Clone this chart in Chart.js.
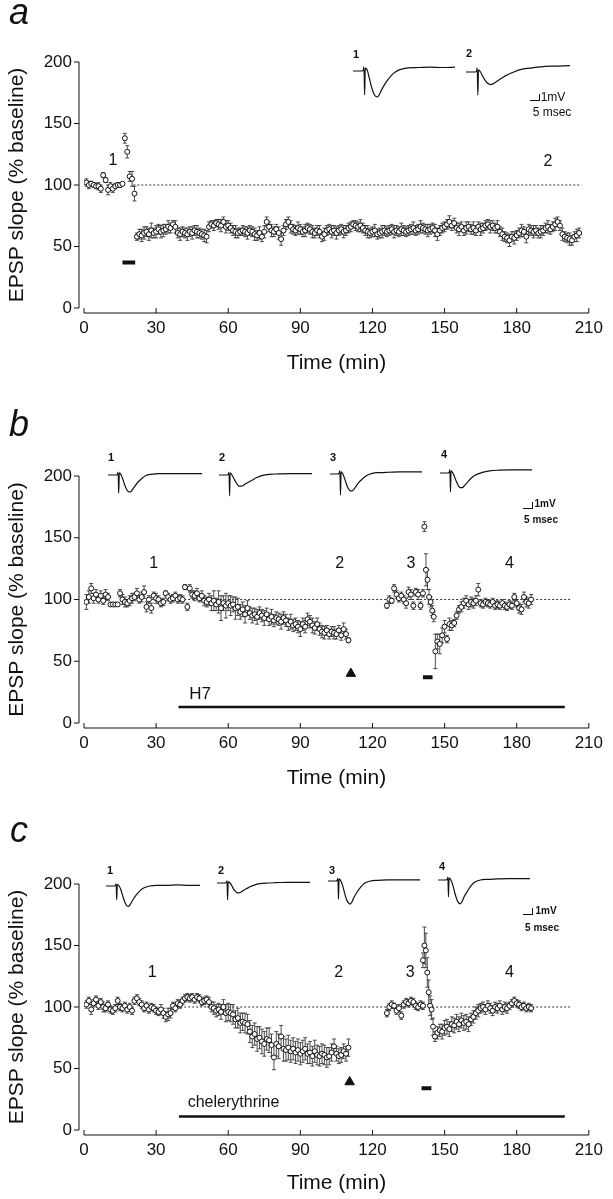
<!DOCTYPE html>
<html>
<head>
<meta charset="utf-8">
<script src="https://cdn.jsdelivr.net/npm/chart.js@4.4.1/dist/chart.umd.min.js"></script>
<style>
  body { margin: 0; background: #fff; }
  #page { position: relative; width: 613px; height: 1199px; overflow: hidden;
          font-family: 'Liberation Sans', Arial, sans-serif; color: #111; }
  #page canvas { position: absolute; left: 0; }
  .txt { position: absolute; line-height: 1; white-space: nowrap; transform: translate(-50%, -50%); }
  .letter { font-size: 36px; font-style: italic; }
  .tn { font-size: 11px; font-weight: bold; }
  .sba { font-size: 12px; }
  .sbb { font-size: 10px; font-weight: bold; }
  .bar { position: absolute; width: 9px; height: 6px; border-right: 1px solid #111; border-bottom: 1px solid #111; }
</style>
</head>
<body>
<div id="page">
  <canvas id="chart-a" width="613" height="380" style="top:0px"></canvas>
  <canvas id="chart-b" width="613" height="403" style="top:392px"></canvas>
  <canvas id="chart-c" width="613" height="400" style="top:800px"></canvas>
</div>
<script>
// ---------- panel a : EPSP slope (% baseline), one point per minute ----------
const aBase = [102, 100, 101, 100, 99, 99, 97, 108, 104, 96, 99, 97, 99, 100, 100, 101];          // t = 1..16
const aBaseErr = [3, 3, 2, 2, 2, 3, 3, 2, 2, 4, 3, 3, 2, 2, 2, 1];
const aSpike = [138, 127, 107, 105, 93];                                                          // t = 17..21
const aSpikeErr = [4, 5, 4, 6, 6];
const aPost = [                                                                                   // t = 22..206
  58, 60, 59, 61, 62, 60, 63, 61, 62, 64, 62,
  63, 64, 66, 65, 68, 66, 61, 60, 62,
  61, 60, 62, 61, 63, 62, 61, 60, 59,
  58, 66, 68, 67, 69, 68, 67, 70, 66, 67, 65,
  63, 62, 61, 62, 63, 62, 61, 63, 62,
  60, 59, 61, 58, 62, 70,
  66, 63, 62, 64, 61, 56, 63,
  68, 70, 66, 64,
  63, 65, 64, 62, 63, 65, 64, 62, 61, 63, 62,
  58, 60, 63, 64, 62, 63, 61, 63, 64, 62, 63, 65,
  66, 68, 67, 66, 67, 65,
  63, 62, 61, 62, 63, 60, 61, 62, 63, 62,
  63, 64, 62, 63, 62, 64, 63, 62, 63,
  64, 65, 63, 64, 66, 65, 64, 63, 64, 65, 63,
  60, 63, 65, 66,
  68, 70, 67, 69,
  65, 64, 66, 63, 65, 66, 64, 65, 63, 66, 64, 65,
  67, 68, 66, 67, 65, 66,
  62, 60, 58, 57, 55, 58, 57, 59,
  61, 63, 62, 58, 64, 63, 62, 63, 61, 62,
  63, 65, 66, 64, 66, 68, 70, 67,
  60, 58, 57, 56, 55, 58, 59, 61
];
const aPostErr = [
  3, 4, 5, 5, 4, 5, 6, 4, 5, 4, 5,
  5, 4, 5, 4, 3, 5, 4, 5, 4,
  4, 5, 4, 5, 4, 5, 4, 4, 5,
  5, 4, 3, 4, 3, 4, 5, 4, 5, 4, 4,
  4, 5, 4, 3, 4, 4, 5, 4, 4,
  5, 4, 5, 4, 5, 4,
  4, 5, 4, 4, 5, 5, 4,
  4, 4, 5, 4,
  4, 5, 4, 4, 5, 4, 4, 5, 4, 4, 5,
  4, 5, 4, 4, 5, 4, 5, 4, 4, 5, 4, 4,
  4, 3, 4, 4, 5, 4,
  4, 5, 4, 4, 5, 4, 4, 5, 4, 4,
  4, 4, 5, 4, 4, 5, 4, 4, 4,
  4, 5, 4, 4, 5, 4, 4, 5, 4, 4, 5,
  5, 4, 4, 4,
  4, 5, 4, 4,
  4, 5, 4, 4, 5, 4, 4, 5, 4, 4, 5, 4,
  4, 4, 5, 4, 4, 5,
  4, 5, 4, 4, 5, 4, 5, 4,
  4, 5, 4, 5, 4, 4, 5, 4, 4, 5,
  4, 4, 5, 4, 4, 5, 4, 4,
  5, 4, 4, 5, 4, 4, 5, 4
];
const aNumT = [12, 193];
const aNumV = [120, 119];
const aNumText = ['1', '2'];

// ---------- panel b : H7 ----------
const bPre = [                                                                                    // t = 1..110
  98, 102, 109, 101, 104, 100, 103, 99, 104, 102,
  96, 96, 96, 96,
  105, 100, 98, 97, 99, 101,
  102, 105, 100, 102, 106, 94, 100, 93, 103, 101,
  100, 97, 98, 105, 102, 100, 101, 103, 100, 101, 100,
  110, 94, 109, 104, 103, 105, 101, 103,
  99, 98, 100, 97, 99, 96, 98, 93, 97, 95, 97,
  95, 96, 93, 94, 90, 92, 88, 93, 89, 87,
  88, 86, 89, 87, 85, 88, 84, 86, 83, 85,
  84, 82, 85, 83, 80, 82, 79, 80, 78, 76,
  80, 78, 84, 82, 79, 77, 80, 76, 74, 73,
  75, 72, 74, 73, 72, 75, 71, 76, 72, 67
];
const bPreErr = [
  6, 5, 4, 4, 4, 3, 4, 3, 4, 3,
  1, 1, 1, 1,
  3, 4, 4, 3, 4, 4,
  3, 4, 3, 4, 5, 4, 3, 4, 3, 4,
  3, 3, 3, 2, 3, 3, 3, 3, 3, 3, 3,
  2, 3, 3, 3, 4, 4, 3, 4,
  4, 4, 5, 6, 8, 5, 9, 10, 6, 10, 6,
  8, 6, 9, 7, 6, 6, 7, 6, 5, 6,
  5, 6, 5, 5, 6, 5, 5, 6, 5, 5,
  5, 6, 5, 5, 5, 6, 5, 5, 5, 6,
  5, 5, 5, 5, 6, 5, 5, 5, 5, 5,
  4, 4, 4, 5, 4, 4, 4, 5, 4, 2
];
const bWash = [95, 100, 99, 109, 104, 101, 103, 100, 97, 106, 104, 95, 106, 104, 95, 105];       // t = 126..141
const bWashErr = [2, 3, 2, 3, 3, 3, 3, 3, 4, 4, 4, 3, 3, 4, 3, 3];
const bSpike = [159, 124, 116, 102, 98, 91, 86, 58];                                              // t = 141.6.. step 0.65
const bSpikeErr = [4, 13, 8, 6, 4, 4, 4, 14];
const bPost = [                                                                                   // t = 147..186
  66, 64, 71, 78, 68, 80, 79, 81, 87, 92,
  94, 97, 99, 96, 98, 97, 99, 108, 97, 96,
  98, 97, 96, 98, 95, 96, 95, 97, 95, 94,
  96, 95, 102, 97, 93, 92, 102, 98, 97, 100
];
const bPostErr = [
  6, 8, 6, 5, 3, 5, 4, 3, 3, 3,
  4, 4, 4, 4, 4, 4, 4, 5, 3, 3,
  3, 3, 3, 3, 3, 3, 3, 3, 3, 3,
  3, 3, 3, 3, 4, 4, 4, 4, 4, 4
];
const bNumT = [29, 106.4, 136, 177];
const bNumV = [129, 129, 129, 129];
const bNumText = ['1', '2', '3', '4'];

// ---------- panel c : chelerythrine ----------
const cPre = [                                                                                    // t = 1..110
  102, 105, 98, 103, 106, 101, 104, 100, 99, 102,
  98, 97, 99, 105, 100, 99, 101, 98, 100, 97,
  105, 107, 104, 102, 99, 101, 98, 100, 99, 97,
  96, 98, 95, 92, 94, 95, 101, 99, 103, 102,
  105, 107, 108, 107, 108, 106, 108, 107, 104, 105,
  106, 104, 100, 99, 97, 98, 96, 100, 95, 96,
  95, 94, 90, 91, 87, 88, 87, 86, 80, 76,
  78, 74, 75, 72, 70, 74, 73, 69, 59, 70,
  68, 76, 66, 65, 67, 64, 66, 63, 65, 62,
  64, 66, 62, 63, 60, 64, 61, 60, 62, 61,
  59, 60, 63, 68, 62, 60, 61, 64, 62, 67
];
const cPreErr = [
  3, 3, 4, 3, 3, 3, 3, 4, 3, 3,
  3, 3, 3, 3, 3, 3, 3, 3, 3, 3,
  3, 3, 3, 3, 3, 3, 3, 3, 3, 3,
  3, 4, 4, 4, 5, 4, 3, 3, 3, 3,
  3, 3, 3, 3, 3, 3, 3, 3, 3, 3,
  3, 4, 4, 5, 5, 5, 6, 6, 7, 7,
  7, 8, 7, 8, 8, 7, 8, 8, 9, 9,
  9, 10, 9, 10, 10, 9, 10, 9, 10, 10,
  10, 9, 10, 9, 10, 9, 9, 9, 9, 9,
  9, 9, 8, 9, 8, 9, 8, 8, 8, 8,
  8, 7, 7, 6, 6, 6, 6, 6, 6, 7
];
const cWash = [95, 100, 102, 101, 97, 99, 93, 102, 104, 103, 105, 104, 101, 100, 102, 101];     // t = 126..141
const cWashErr = [3, 3, 3, 2, 3, 3, 3, 3, 3, 3, 3, 3, 3, 3, 3, 3];
const cSpike = [138, 150, 146, 128, 112, 101, 98, 84];                                            // t = 141.0.. step 0.6
const cSpikeErr = [6, 15, 14, 12, 10, 8, 8, 7];
const cPost = [                                                                                   // t = 146..186
  76, 79, 81, 80, 83, 84, 82, 86, 85, 88,
  86, 89, 87, 88, 86, 90, 92, 95, 97, 99,
  100, 98, 101, 99, 97, 100, 99, 101, 98, 100,
  99, 101, 103, 105, 103, 102, 100, 101, 99, 100,
  99
];
const cPostErr = [
  4, 5, 5, 6, 6, 6, 6, 6, 6, 6,
  6, 6, 6, 6, 6, 5, 5, 5, 5, 4,
  4, 4, 4, 4, 4, 4, 4, 4, 4, 4,
  4, 3, 3, 3, 3, 3, 3, 3, 3, 3,
  3
];
const cNumT = [28.4, 106, 135.7, 177];
const cNumV = [128, 128, 128, 128];
const cNumText = ['1', '2', '3', '4'];

// ---------- inset EPSP traces (mV against ms after trace start) ----------
const traceMs = [0, 4, 5, 5.4, 5.7, 6, 7, 8, 9, 10, 11, 12, 13, 14, 16, 18, 20, 23, 27, 32, 38, 44, 50];
const traceA1 = [0, 0, 0.1, 0.6, -3.4, 0.4, 0.1, -1.0, -2.2, -3.1, -3.6, -3.7, -3.3, -2.7, -1.7, -0.9, -0.3, 0.2, 0.45, 0.5, 0.55, 0.5, 0.55];
const traceA2 = [0, 0, 0.1, 0.6, -3.3, 0.3, 0.0, -0.6, -1.1, -1.5, -1.7, -1.8, -1.7, -1.5, -1.1, -0.7, -0.4, 0.0, 0.4, 0.6, 0.8, 0.85, 0.9];
const traceB1 = [0, 0, 0.1, 0.4, -2.6, 0.3, 0.0, -0.7, -1.5, -2.1, -2.4, -2.4, -2.1, -1.7, -1.0, -0.5, -0.1, 0.1, 0.2, 0.2, 0.2, 0.2, 0.2];
const traceB2 = [0, 0, 0.1, 0.4, -3.0, 0.3, 0.0, -0.5, -1.0, -1.4, -1.6, -1.6, -1.5, -1.3, -1.0, -0.7, -0.4, -0.1, 0.1, 0.15, 0.2, 0.2, 0.2];
const traceB3 = [0, 0, 0.1, 0.5, -3.0, 0.3, 0.0, -0.7, -1.5, -2.1, -2.4, -2.4, -2.2, -1.8, -1.1, -0.6, -0.2, 0.1, 0.2, 0.25, 0.3, 0.3, 0.3];
const traceB4 = [0, 0, 0.1, 0.5, -2.7, 0.3, 0.0, -0.6, -1.3, -1.8, -2.1, -2.1, -1.9, -1.6, -1.0, -0.5, -0.2, 0.1, 0.3, 0.4, 0.45, 0.45, 0.45];
const traceC1 = [0, 0, 0.1, 0.3, -2.0, 0.2, 0.0, -0.6, -1.5, -2.3, -2.8, -2.9, -2.6, -2.1, -1.3, -0.7, -0.3, 0.0, 0.1, 0.1, 0.15, 0.1, 0.1];
const traceC2 = [0, 0, 0.1, 0.3, -2.4, 0.2, 0.0, -0.4, -0.9, -1.2, -1.4, -1.4, -1.3, -1.1, -0.8, -0.5, -0.3, -0.1, 0.0, 0.05, 0.1, 0.1, 0.1];
const traceC3 = [0, 0, 0.1, 0.4, -2.6, 0.3, 0.0, -0.7, -1.7, -2.6, -3.1, -3.3, -3.0, -2.4, -1.5, -0.8, -0.3, 0.0, 0.1, 0.15, 0.15, 0.15, 0.15];
const traceC4 = [0, 0, 0.1, 0.4, -2.4, 0.3, 0.0, -0.7, -1.7, -2.6, -3.2, -3.4, -3.1, -2.5, -1.6, -0.8, -0.3, 0.0, 0.1, 0.15, 0.2, 0.2, 0.2];

Chart.defaults.font.family = "'Liberation Sans', Arial, sans-serif";
Chart.defaults.color = '#111';

function seg(start, step, vals, errs) {
    return vals.map((v, i) => ({ x: +(start + i * step).toFixed(2), y: v, e: errs[i] }));
}

// axes drawn off-set from the plot corner, plus error bars and text marks
const decoPlugin = {
    id: 'deco',
    beforeDatasetsDraw(chart) {
        const { ctx, scales: { x, y } } = chart;
        const ax = x.getPixelForValue(0) - 5;
        const ay = y.getPixelForValue(0) + 5;
        ctx.save();
        ctx.strokeStyle = '#111';
        ctx.lineWidth = 1;
        ctx.beginPath();
        ctx.moveTo(ax, y.getPixelForValue(0));
        ctx.lineTo(ax, y.getPixelForValue(200));
        y.ticks.forEach(t => {
            const py = y.getPixelForValue(t.value);
            ctx.moveTo(ax - 5, py);
            ctx.lineTo(ax, py);
        });
        ctx.moveTo(x.getPixelForValue(0), ay);
        ctx.lineTo(x.getPixelForValue(210), ay);
        x.ticks.forEach(t => {
            const px = x.getPixelForValue(t.value);
            ctx.moveTo(px, ay);
            ctx.lineTo(px, ay - 5);
        });
        ctx.stroke();

        ctx.lineWidth = 0.8;
        ctx.strokeStyle = '#222';
        ctx.beginPath();
        chart.data.datasets.forEach((ds, i) => {
            if (!ds.withErr) return;
            chart.getDatasetMeta(i).data.forEach((pt, j) => {
                const d = ds.data[j];
                const top = y.getPixelForValue(d.y + d.e);
                const bot = y.getPixelForValue(d.y - d.e);
                ctx.moveTo(pt.x, top); ctx.lineTo(pt.x, bot);
                ctx.moveTo(pt.x - 2, top); ctx.lineTo(pt.x + 2, top);
                ctx.moveTo(pt.x - 2, bot); ctx.lineTo(pt.x + 2, bot);
            });
        });
        ctx.stroke();
        ctx.restore();
    },
    afterDatasetsDraw(chart) {
        const { ctx, scales: { x, y } } = chart;
        const marks = chart.options.plugins.deco.marks || [];
        ctx.save();
        ctx.fillStyle = '#111';
        ctx.textAlign = 'center';
        ctx.textBaseline = 'middle';
        marks.forEach(m => {
            ctx.font = m.size + "px 'Liberation Sans', Arial, sans-serif";
            ctx.fillText(m.text, x.getPixelForValue(m.t), y.getPixelForValue(m.v));
        });
        ctx.restore();
    }
};

function buildPanel(id, cfg) {
    const datasets = [
        {
            type: 'scatter',
            label: 'EPSP slope',
            data: cfg.points,
            withErr: true,
            pointRadius: 2.5,
            pointBackgroundColor: '#fff',
            pointBorderColor: '#111',
            pointBorderWidth: 1,
            order: 0
        },
        {
            type: 'line',
            label: 'baseline',
            data: [{ x: cfg.dotted[0], y: 100 }, { x: cfg.dotted[1], y: 100 }],
            borderColor: '#333',
            borderWidth: 1,
            borderDash: [2, 2],
            pointRadius: 0,
            order: 3
        },
        {
            type: 'line',
            label: 'tetanus',
            data: [{ x: cfg.tetanus[0], y: cfg.tetanus[2] }, { x: cfg.tetanus[1], y: cfg.tetanus[2] }],
            borderColor: '#111',
            borderWidth: 4,
            pointRadius: 0,
            order: 2
        }
    ];
    if (cfg.drug) {
        datasets.push({
            type: 'line',
            label: 'drug',
            data: [{ x: cfg.drug[0], y: cfg.drug[2] }, { x: cfg.drug[1], y: cfg.drug[2] }],
            borderColor: '#111',
            borderWidth: 2.5,
            pointRadius: 0,
            order: 2
        });
    }
    if (cfg.arrow) {
        datasets.push({
            type: 'scatter',
            label: 'arrow',
            data: [{ x: cfg.arrow[0], y: cfg.arrow[1] }],
            pointStyle: 'triangle',
            pointRadius: 5.5,
            pointBackgroundColor: '#111',
            pointBorderColor: '#111',
            order: 2
        });
    }

    return new Chart(document.getElementById(id), {
        data: { datasets: datasets },
        plugins: [decoPlugin],
        options: {
            responsive: false,
            animation: false,
            devicePixelRatio: 1,
            layout: { autoPadding: false, padding: { top: cfg.padTop, right: 15, bottom: 0, left: 0 } },
            scales: {
                x: {
                    type: 'linear',
                    min: 0,
                    max: 210,
                    afterFit: function (scale) { scale.height = cfg.xHeight; },
                    ticks: { stepSize: 30, autoSkip: false, maxRotation: 0, padding: 10, font: { size: 17 } },
                    grid: { display: false, drawTicks: false },
                    border: { display: false },
                    title: { display: true, text: 'Time (min)', font: { size: 21 }, padding: { top: 0, bottom: 4 } }
                },
                y: {
                    min: 0,
                    max: 200,
                    afterFit: function (scale) { scale.width = 84; },
                    ticks: { stepSize: 50, padding: 12, font: { size: 17 } },
                    grid: { display: false, drawTicks: false },
                    border: { display: false },
                    title: { display: true, text: 'EPSP slope (% baseline)', font: { size: 21 }, padding: { top: 5, bottom: 0 } }
                }
            },
            plugins: {
                legend: { display: false },
                tooltip: { enabled: false },
                deco: { marks: cfg.marks }
            }
        }
    });
}

function numberMarks(ts, vs, texts, size) {
    return ts.map((t, i) => ({ t: t, v: vs[i], text: texts[i], size: size }));
}

buildPanel('chart-a', {
    padTop: 62, xHeight: 72,
    points: [].concat(seg(1, 1, aBase, aBaseErr), seg(17, 1, aSpike, aSpikeErr), seg(22, 1, aPost, aPostErr)),
    dotted: [20.5, 207],
    tetanus: [16, 21.3, 37],
    marks: numberMarks(aNumT, aNumV, aNumText, 16)
});

buildPanel('chart-b', {
    padTop: 84, xHeight: 72,
    points: [].concat(seg(1, 1, bPre, bPreErr), seg(126, 1, bWash, bWashErr),
                      seg(141.6, 0.65, bSpike, bSpikeErr), seg(147, 1, bPost, bPostErr)),
    dotted: [40, 202.5],
    tetanus: [141, 145, 37],
    drug: [39.3, 200, 13],
    arrow: [111, 40],
    marks: numberMarks(bNumT, bNumV, bNumText, 16).concat([{ t: 48.3, v: 23, text: 'H7', size: 17 }])
});

buildPanel('chart-c', {
    padTop: 84, xHeight: 70,
    points: [].concat(seg(1, 1, cPre, cPreErr), seg(126, 1, cWash, cWashErr),
                      seg(141.0, 0.6, cSpike, cSpikeErr), seg(146, 1, cPost, cPostErr)),
    dotted: [40, 203],
    tetanus: [140.4, 144.5, 34],
    drug: [39.5, 200, 11],
    arrow: [110.5, 39],
    marks: numberMarks(cNumT, cNumV, cNumText, 16).concat([{ t: 62.2, v: 22, text: 'chelerythrine', size: 16 }])
});

// small inset charts for the sample EPSPs: 1 mV = 7 px vertically
const page = document.getElementById('page');

function buildTrace(vals, left, baseY, width) {
    const cv = document.createElement('canvas');
    cv.width = width + 4;
    cv.height = 39;
    cv.style.left = (left - 2) + 'px';
    cv.style.top = (baseY - 9) + 'px';
    page.appendChild(cv);
    new Chart(cv, {
        type: 'line',
        data: {
            datasets: [{
                data: traceMs.map((t, i) => ({ x: t, y: vals[i] })),
                borderColor: '#111',
                borderWidth: 1.2,
                pointRadius: 0,
                cubicInterpolationMode: 'monotone'
            }]
        },
        options: {
            responsive: false,
            animation: false,
            devicePixelRatio: 1,
            layout: { padding: 2 },
            scales: {
                x: { type: 'linear', min: 0, max: 50, display: false },
                y: { min: -4, max: 1, display: false }
            },
            plugins: { legend: { display: false }, tooltip: { enabled: false } }
        }
    });
}

buildTrace(traceA1, 353, 71, 102);
buildTrace(traceA2, 466, 72, 104);
buildTrace(traceB1, 108, 475, 94);
buildTrace(traceB2, 219, 475, 93);
buildTrace(traceB3, 330, 474, 92);
buildTrace(traceB4, 440, 473, 92);
buildTrace(traceC1, 106, 886, 94);
buildTrace(traceC2, 217, 883, 93);
buildTrace(traceC3, 328, 881, 92);
buildTrace(traceC4, 438, 880, 92);

// text and scale bars around the insets
const texts = [
    ['a', 19, 12, 'letter'], ['b', 19, 424, 'letter'], ['c', 19, 830, 'letter'],
    ['1', 356, 54, 'tn'], ['2', 469, 53, 'tn'],
    ['1', 111, 457, 'tn'], ['2', 222, 457, 'tn'], ['3', 333, 457, 'tn'], ['4', 444, 454, 'tn'],
    ['1', 110, 870, 'tn'], ['2', 221, 870, 'tn'], ['3', 332, 870, 'tn'], ['4', 442, 866, 'tn'],
    ['1mV', 553, 97, 'sba'], ['5 msec', 552, 112, 'sba'],
    ['1mV', 545, 504, 'sbb'], ['5 msec', 541, 520, 'sbb'],
    ['1mV', 546, 911, 'sbb'], ['5 msec', 542, 928, 'sbb']
];
texts.forEach(([s, x, y, cls]) => {
    const d = document.createElement('div');
    d.className = 'txt ' + cls;
    d.textContent = s;
    d.style.left = x + 'px';
    d.style.top = y + 'px';
    page.appendChild(d);
});
[[530, 94], [523, 502], [523, 908]].forEach(([x, y]) => {
    const b = document.createElement('div');
    b.className = 'bar';
    b.style.left = x + 'px';
    b.style.top = y + 'px';
    page.appendChild(b);
});
</script>
</body>
</html>
